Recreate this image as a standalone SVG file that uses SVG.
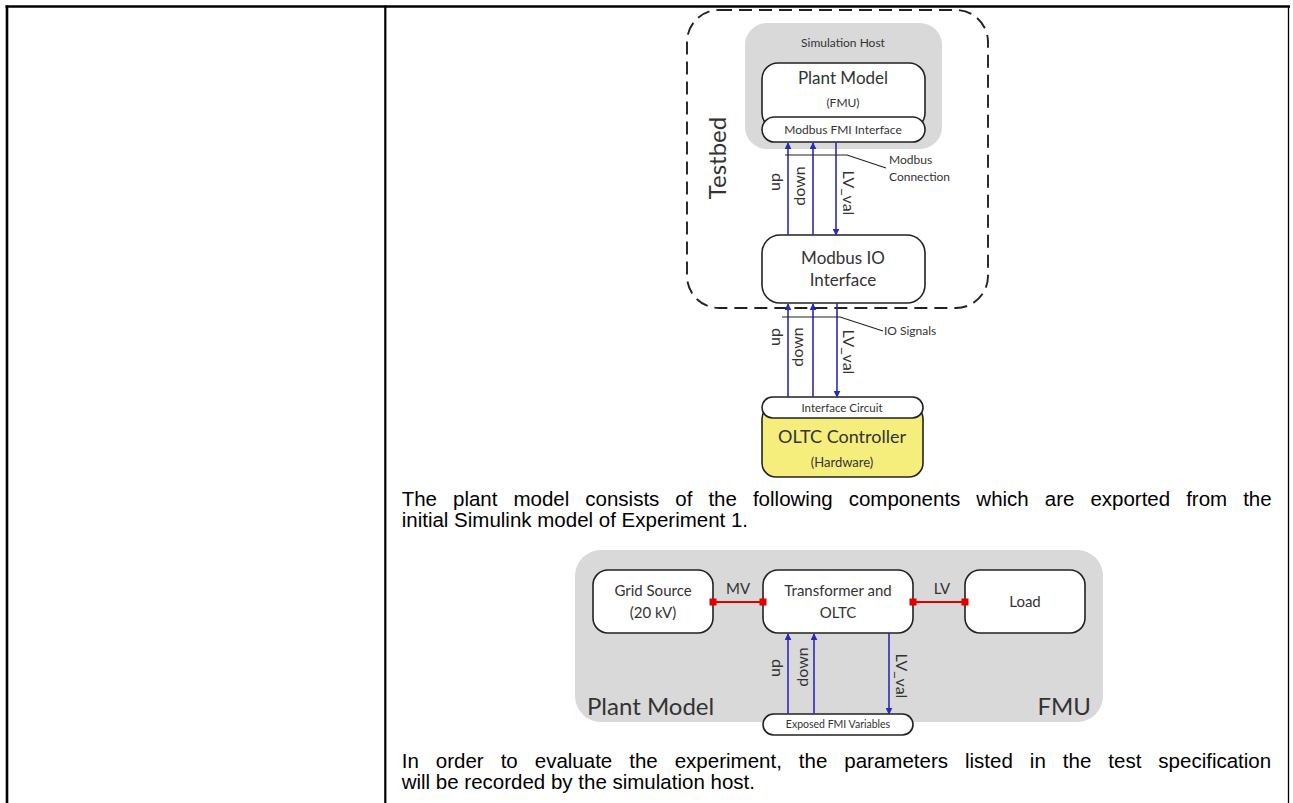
<svg xmlns="http://www.w3.org/2000/svg" width="1293" height="803" viewBox="0 0 1293 803">
<defs>
<marker id="ah" viewBox="0 0 10 10" refX="9" refY="5" markerWidth="7" markerHeight="7" orient="auto" markerUnits="userSpaceOnUse">
<path d="M0,0 L10,5 L0,10 z" fill="#2a2ab8"/>
</marker>
<style>
.box{fill:#fff;stroke:#222;stroke-width:1.6}
.gray{fill:#d9d9d9}
.yel{fill:#f6ee7c;stroke:#222;stroke-width:1.6}
.t{font-family:Lato,"Open Sans",sans-serif;fill:#333;text-anchor:middle}
.sig{stroke:#2a2ab8;stroke-width:1.6;fill:none}
.ldr{stroke:#222;stroke-width:1.2;fill:none}
.red{stroke:#e00000;stroke-width:2.2}
.sq{fill:#e00000}
.p{font-family:"Liberation Sans",Arial,sans-serif;font-size:20.5px;fill:#000}
.tbl{stroke:#000;fill:none}
</style>
</defs>
<rect width="1293" height="803" fill="#fff"/>
<g id="table">
<line class="tbl" x1="5.5" y1="6.5" x2="1290" y2="6.5" stroke-width="2.6"/>
<line class="tbl" x1="7" y1="5.5" x2="7" y2="803" stroke-width="2.6"/>
<line class="tbl" x1="385.3" y1="5.5" x2="385.3" y2="803" stroke-width="2.2"/>
<line class="tbl" x1="1288.5" y1="6" x2="1288.5" y2="803" stroke-width="1.3"/>
</g>
<g id="testbed">
<rect x="687" y="10" width="301" height="298" rx="32" fill="none" stroke="#222" stroke-width="1.9" stroke-dasharray="13 7"/>
<text class="t" font-size="24" transform="translate(726,158) rotate(-90)">Testbed</text>
</g>
<g id="simulation-host">
<rect class="gray" x="745" y="23" width="197" height="126" rx="22"/>
<text class="t" font-size="12" x="843" y="47">Simulation Host</text>
</g>
<g id="plant-model-fmu">
<rect class="box" x="762" y="63" width="163" height="66" rx="16"/>
<text class="t" font-size="17" x="843" y="84">Plant Model</text>
<text class="t" font-size="12" x="843" y="107">(FMU)</text>
</g>
<g id="modbus-fmi-interface">
<rect class="box" x="762" y="117" width="163" height="25" rx="12.5"/>
<text class="t" font-size="12" x="843" y="134">Modbus FMI Interface</text>
</g>
<g id="modbus-io-interface">
<rect class="box" x="762" y="235" width="163" height="68" rx="18"/>
<text class="t" font-size="17" x="843" y="264">Modbus IO</text>
<text class="t" font-size="17" x="843" y="286">Interface</text>
</g>
<g id="oltc-controller">
<rect class="yel" x="762" y="405" width="161" height="72" rx="14"/>
<text class="t" font-size="18" x="842" y="443">OLTC Controller</text>
<text class="t" font-size="13" x="842" y="467">(Hardware)</text>
</g>
<g id="interface-circuit">
<rect class="box" x="762" y="397" width="161" height="21" rx="10.5"/>
<text class="t" font-size="11.5" x="842" y="412">Interface Circuit</text>
</g>
<g id="plant-model-panel">
<rect class="gray" x="575" y="550" width="528" height="172" rx="26"/>
<text class="t" font-size="24" x="587" y="715" style="text-anchor:start">Plant Model</text>
<text class="t" font-size="24" x="1091" y="715" style="text-anchor:end">FMU</text>
</g>
<g id="grid-source">
<rect class="box" x="593" y="570" width="120" height="63" rx="15"/>
<text class="t" font-size="15" x="653" y="596">Grid Source</text>
<text class="t" font-size="15" x="653" y="618">(20 kV)</text>
</g>
<g id="transformer-oltc">
<rect class="box" x="763" y="570" width="150" height="63" rx="15"/>
<text class="t" font-size="15" x="838" y="596">Transformer and</text>
<text class="t" font-size="15" x="838" y="618">OLTC</text>
</g>
<g id="load">
<rect class="box" x="965" y="570" width="120" height="63" rx="15"/>
<text class="t" font-size="15" x="1025" y="607">Load</text>
</g>
<g id="exposed-fmi-variables">
<rect class="box" x="763" y="714" width="150" height="21" rx="10.5"/>
<text class="t" font-size="10.5" x="838" y="728">Exposed FMI Variables</text>
</g>
<g id="connectors">
<line class="sig" x1="788" y1="235" x2="788" y2="143" marker-end="url(#ah)"/>
<line class="sig" x1="813" y1="235" x2="813" y2="143" marker-end="url(#ah)"/>
<line class="sig" x1="836" y1="142" x2="836" y2="235" marker-end="url(#ah)"/>
<polyline class="ldr" points="785,155 847,155 886,168"/>
<text class="t" font-size="12" x="889" y="164" style="text-anchor:start">Modbus</text>
<text class="t" font-size="12" x="889" y="181" style="text-anchor:start">Connection</text>
<text class="t" font-size="16" transform="translate(780,182) rotate(-90)">up</text>
<text class="t" font-size="16" transform="translate(805,186) rotate(-90)">down</text>
<text class="t" font-size="16" transform="translate(843,193) rotate(90)">LV_val</text>
<line class="sig" x1="788" y1="397" x2="788" y2="304" marker-end="url(#ah)"/>
<line class="sig" x1="813" y1="397" x2="813" y2="304" marker-end="url(#ah)"/>
<line class="sig" x1="837" y1="303" x2="837" y2="397" marker-end="url(#ah)"/>
<polyline class="ldr" points="782,317 840,317 883,331"/>
<text class="t" font-size="12" x="884" y="335" style="text-anchor:start">IO Signals</text>
<text class="t" font-size="16" transform="translate(780,337) rotate(-90)">up</text>
<text class="t" font-size="16" transform="translate(803,347) rotate(-90)">down</text>
<text class="t" font-size="16" transform="translate(843,352) rotate(90)">LV_val</text>
<line class="red" x1="713" y1="602" x2="763" y2="602"/>
<rect class="sq" x="709.5" y="598.5" width="7" height="7"/>
<rect class="sq" x="759.5" y="598.5" width="7" height="7"/>
<text class="t" font-size="15" x="738" y="594">MV</text>
<line class="red" x1="913" y1="602" x2="965" y2="602"/>
<rect class="sq" x="909.5" y="598.5" width="7" height="7"/>
<rect class="sq" x="961.5" y="598.5" width="7" height="7"/>
<text class="t" font-size="15" x="942" y="594">LV</text>
<line class="sig" x1="788" y1="714" x2="788" y2="634" marker-end="url(#ah)"/>
<line class="sig" x1="814" y1="714" x2="814" y2="634" marker-end="url(#ah)"/>
<line class="sig" x1="889" y1="633" x2="889" y2="714" marker-end="url(#ah)"/>
<text class="t" font-size="16" transform="translate(780,668) rotate(-90)">up</text>
<text class="t" font-size="16" transform="translate(808,667) rotate(-90)">down</text>
<text class="t" font-size="16" transform="translate(896,676) rotate(90)">LV_val</text>
</g>
<g id="text">
<text class="p" x="401.7" y="506" word-spacing="10.3">The plant model consists of the following components which are exported from the</text>
<text class="p" x="401.7" y="527">initial Simulink model of Experiment 1.</text>
<text class="p" x="401.7" y="768" word-spacing="11.3">In order to evaluate the experiment, the parameters listed in the test specification</text>
<text class="p" x="401.7" y="789">will be recorded by the simulation host.</text>
</g>
</svg>
